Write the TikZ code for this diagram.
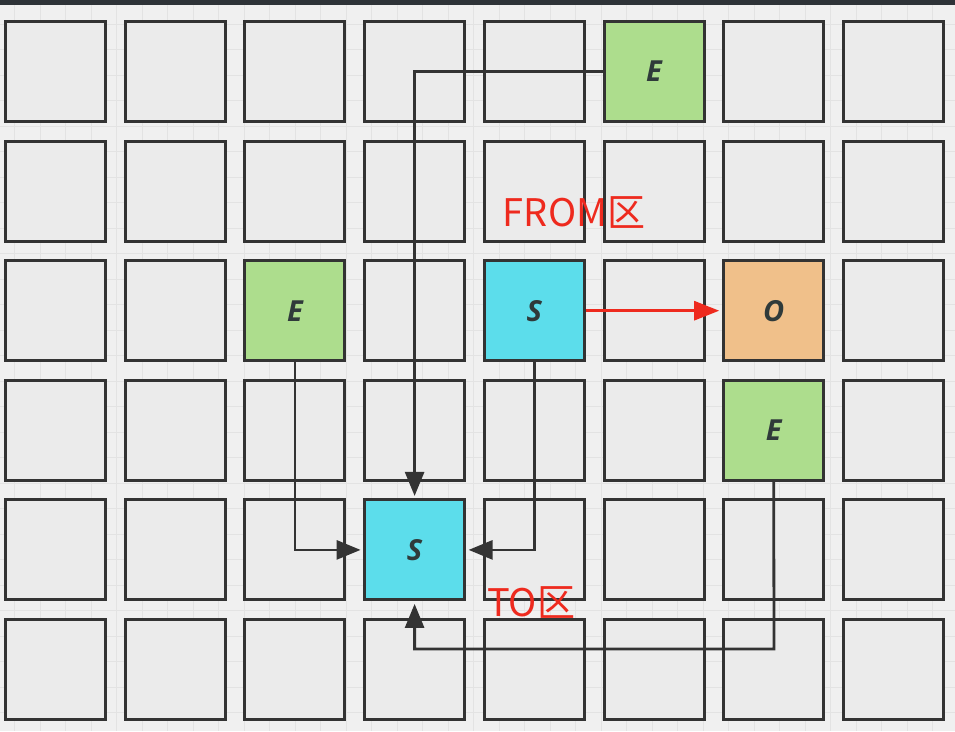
\documentclass[tikz,border=0pt]{standalone}
\usepackage{fontspec}
\setmainfont{Open Sans}
\newfontfamily\cjkfont{Noto Sans CJK SC}
\usetikzlibrary{arrows.meta}
\definecolor{bgc}{HTML}{F0F0F0}
\definecolor{gridc}{HTML}{E3E3E3}
\definecolor{cellfill}{HTML}{EBEBEB}
\definecolor{boxline}{HTML}{333333}
\definecolor{greenc}{HTML}{ADDD8D}
\definecolor{cyanc}{HTML}{5CDDEB}
\definecolor{orangec}{HTML}{F0C08A}
\definecolor{redc}{HTML}{EE2A1E}
\definecolor{topbar}{HTML}{2E3338}
\definecolor{labelc}{HTML}{2F3A3A}
\begin{document}
\begin{tikzpicture}[x=1pt,y=-1pt,
  cell/.style={draw=boxline, line width=3pt, fill=cellfill, minimum size=100pt, inner sep=0pt},
  greenbox/.style={cell, fill=greenc},
  cyanbox/.style={cell, fill=cyanc},
  orangebox/.style={cell, fill=orangec},
  lbl/.style={text=labelc, font=\fontsize{29}{32}\selectfont\bfseries\itshape},
  conn/.style={draw=boxline, line width=2.8pt, -{Triangle[length=24pt,width=19pt]}, shorten >=2.5pt},
  redconn/.style={draw=redc, line width=2.8pt, -{Triangle[length=25pt,width=19pt]}, shorten >=3pt},
  zone/.style={text=redc, font=\cjkfont\fontsize{38}{42}\selectfont, inner sep=0pt}
]
\useasboundingbox (0,0) rectangle (955,731);
\fill[bgc] (0,0) rectangle (955,731);
% faint background grid
\foreach \k in {0,...,37} {
  \draw[gridc, line width=1pt] (14.5+25.5*\k,5) -- (14.5+25.5*\k,731);
}
\foreach \k in {0,...,28} {
  \draw[gridc, line width=1pt] (0,24+25.5*\k) -- (955,24+25.5*\k);
}
\fill[topbar] (0,0) rectangle (955,5);
% plain cells
\foreach \i in {0,...,7} {
  \foreach \j in {0,...,5} {
    \node[cell] (c-\i-\j) at (55.5+119.7*\i, 71.5+119.6*\j) {};
  }
}
% coloured cells
\node[greenbox] (e1) at (55.5+119.7*5, 71.5) {};
\node[lbl] (e1l) at (e1) {E};
\node[greenbox] (e2) at (55.5+119.7*2, 71.5+119.6*2) {};
\node[lbl] (e2l) at (e2) {E};
\node[cyanbox] (s1) at (55.5+119.7*4, 71.5+119.6*2) {};
\node[lbl] (s1l) at (s1) {S};
\node[orangebox] (o1) at (55.5+119.7*6, 71.5+119.6*2) {};
\node[lbl] (o1l) at (o1) {O};
\node[greenbox] (e3) at (55.5+119.7*6, 71.5+119.6*3) {};
\node[lbl] (e3l) at (e3) {E};
\node[cyanbox] (s2) at (55.5+119.7*3, 71.5+119.6*4) {};
\node[lbl] (s2l) at (s2) {S};
% zone labels
\node[zone] (from) at (574,213) {FROM区};
\node[zone] (to) at (531,603) {TO区};
% connectors
\draw[conn] (e1.west) -| (s2.north);
\draw[conn] (e2.south) |- (s2.west);
\draw[conn] (s1.south) |- (s2.east);
\coordinate (bend) at (774,649);
\draw[conn] (e3.south) -- (bend) -- (s2 |- bend) -- (s2.south);
\draw[redconn] (s1.east) -- (o1.west);
\end{tikzpicture}
\end{document}
